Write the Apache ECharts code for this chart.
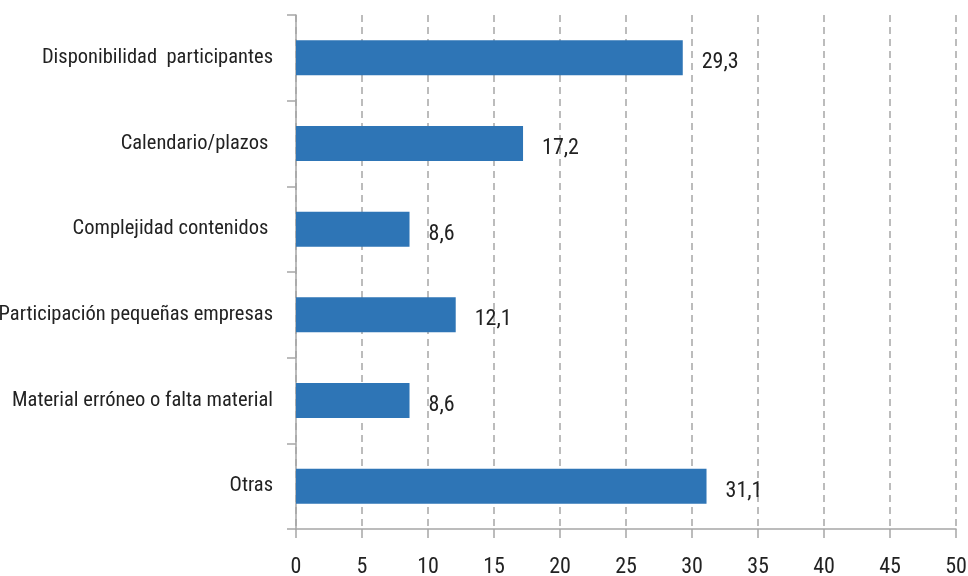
<!DOCTYPE html>
<html>
<head>
<meta charset="utf-8">
<script src="https://cdn.jsdelivr.net/npm/echarts@6/dist/echarts.min.js"></script>
<style>
html,body{margin:0;padding:0;background:#fff;}
#chart{width:968px;height:576px;}
</style>
</head>
<body>
<div id="chart"></div>
<script>
var categories = [
  "Disponibilidad  participantes",
  "Calendario/plazos ",
  "Complejidad contenidos ",
  "Participación pequeñas empresas",
  "Material erróneo o falta material",
  "Otras"
];
var values = [29.3, 17.2, 8.6, 12.1, 8.6, 31.1];
var xMin = 0, xMax = 50, xStep = 5;

var FONT = '"Liberation Sans Narrow", "Roboto Condensed", "Arial Narrow", "Liberation Sans", sans-serif';
var chart = echarts.init(document.getElementById('chart'));
chart.setOption({
  animation: false,
  textStyle: {fontFamily: FONT},
  grid: {left: 296, right: 12, top: 15, bottom: 47, containLabel: false, outerBoundsMode: 'none'},
  xAxis: {
    type: 'value', min: xMin, max: xMax, interval: xStep,
    axisLine: {show: true, lineStyle: {color: '#a6a6a6', width: 1.5}},
    axisTick: {show: true, length: 9, lineStyle: {color: '#a6a6a6', width: 1.5}},
    axisLabel: {color: '#222', fontSize: 22, fontFamily: FONT, margin: 27},
    splitLine: {show: true, lineStyle: {color: '#a6a6a6', type: [7, 5], width: 1.5}}
  },
  yAxis: {
    type: 'category', inverse: true, data: categories,
    axisLine: {show: true, lineStyle: {color: '#a6a6a6', width: 1.5}},
    axisTick: {show: true, length: 9, lineStyle: {color: '#a6a6a6', width: 1.5}},
    axisLabel: {color: '#222', fontSize: 20.5, fontFamily: FONT, margin: 23}
  },
  series: [{
    type: 'bar', data: values, barWidth: 35,
    itemStyle: {color: '#2e75b6'},
    label: {
      show: true, position: 'right', distance: 19,
      color: '#222', fontSize: 22, fontFamily: FONT, offset: [0, 5],
      formatter: function (p) { return String(p.value).replace('.', ','); }
    }
  }]
});
</script>
</body>
</html>
